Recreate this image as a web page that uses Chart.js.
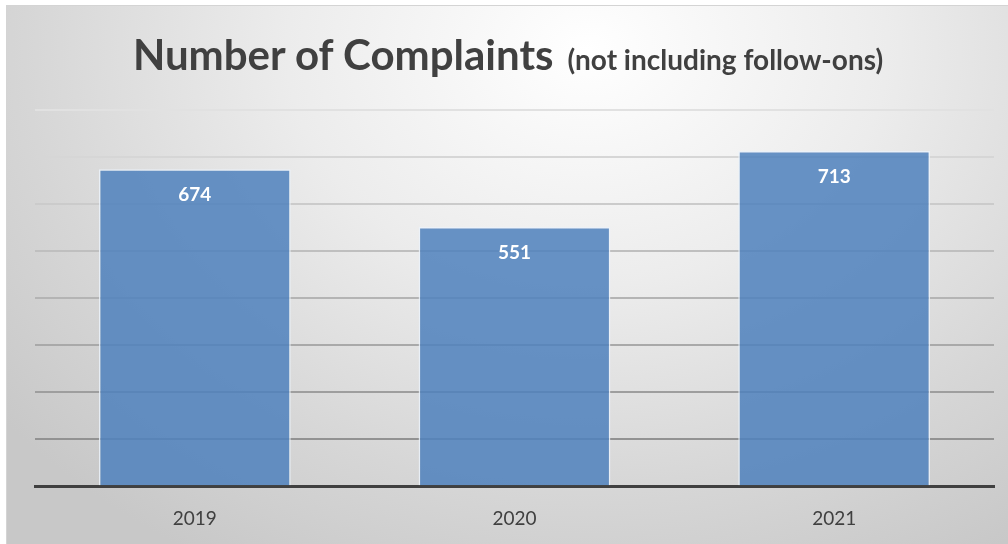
<!DOCTYPE html>
<html>
<head>
<meta charset="utf-8">
<script src="https://cdn.jsdelivr.net/npm/chart.js@4/dist/chart.umd.min.js"></script>
<style>
  html, body { margin: 0; padding: 0; background: #ffffff; overflow: hidden; }
  #frame {
    position: absolute; left: 6px; top: 5px; width: 1002px; height: 539px;
    box-sizing: border-box; border-top: 1px solid #d4d4d4; border-left: 1px solid #d4d4d4;
    background: radial-gradient(ellipse 75% 110% at 58% 8%, #ffffff 0%, #ececec 40%, #d6d6d6 75%, #c8c8c8 100%);
    overflow: hidden;
  }
  #title {
    position: absolute; left: 0; top: 23px; width: 1002px; text-align: center;
    font-family: Lato, "Open Sans", sans-serif; font-weight: 700; color: #404040;
    white-space: nowrap;
  }
  #title .main { font-size: 42px; }
  #title .sub { font-size: 28px; margin-left: 14px; }
  #chart { position: absolute; left: 0; top: 0; }
</style>
</head>
<body>
<div id="frame">
  <canvas id="chart" width="1001" height="546"></canvas>
  <div id="title"><span class="main">Number of Complaints</span><span class="sub">(not including follow-ons)</span></div>
</div>
<script>
// datos del gráfico
const years = ['2019', '2020', '2021'];
const complaints = [674, 551, 713];
const yTicks = [0, 100, 200, 300, 400, 500, 600, 700, 800];

// etiquetas blancas dentro de cada barra
const barLabels = {
  id: 'barLabels',
  afterDatasetsDraw(chart) {
    const ctx = chart.ctx;
    const meta = chart.getDatasetMeta(0);
    ctx.save();
    ctx.fillStyle = '#ffffff';
    ctx.font = 'bold 19px Lato, sans-serif';
    ctx.textAlign = 'center';
    ctx.textBaseline = 'middle';
    meta.data.forEach(function (bar, i) {
      ctx.fillText(String(complaints[i]), bar.x, bar.y + 26);
    });
    ctx.restore();
  }
};

new Chart(document.getElementById('chart').getContext('2d'), {
  type: 'bar',
  data: {
    labels: years,
    datasets: [{
      data: complaints,
      backgroundColor: 'rgba(79, 129, 189, 0.86)',
      borderColor: 'rgba(235, 242, 250, 0.85)',
      borderWidth: 1.5,
      borderSkipped: 'bottom',
      barPercentage: 0.6,
      categoryPercentage: 1
    }]
  },
  options: {
    responsive: false,
    animation: false,
    layout: { padding: { left: 28, right: 14, top: 104, bottom: 1 } },
    plugins: { legend: { display: false }, tooltip: { enabled: false } },
    scales: {
      x: {
        grid: { display: false, drawTicks: false },
        border: { display: true, color: '#404040', width: 3 },
        ticks: { color: '#404040', font: { family: 'Lato', size: 19 }, padding: 21 }
      },
      y: {
        min: yTicks[0],
        max: yTicks[yTicks.length - 1],
        afterBuildTicks(axis) { axis.ticks = yTicks.map(v => ({ value: v })); },
        ticks: { display: false },
        border: { display: false },
        grid: {
          drawTicks: false,
          lineWidth: 2,
          color(c) {
            const t = c.tick ? c.tick.value / 800 : 0;
            const g = Math.round(135 + t * 90);
            return 'rgb(' + g + ',' + g + ',' + g + ')';
          }
        }
      }
    }
  },
  plugins: [barLabels]
});
</script>
</body>
</html>
